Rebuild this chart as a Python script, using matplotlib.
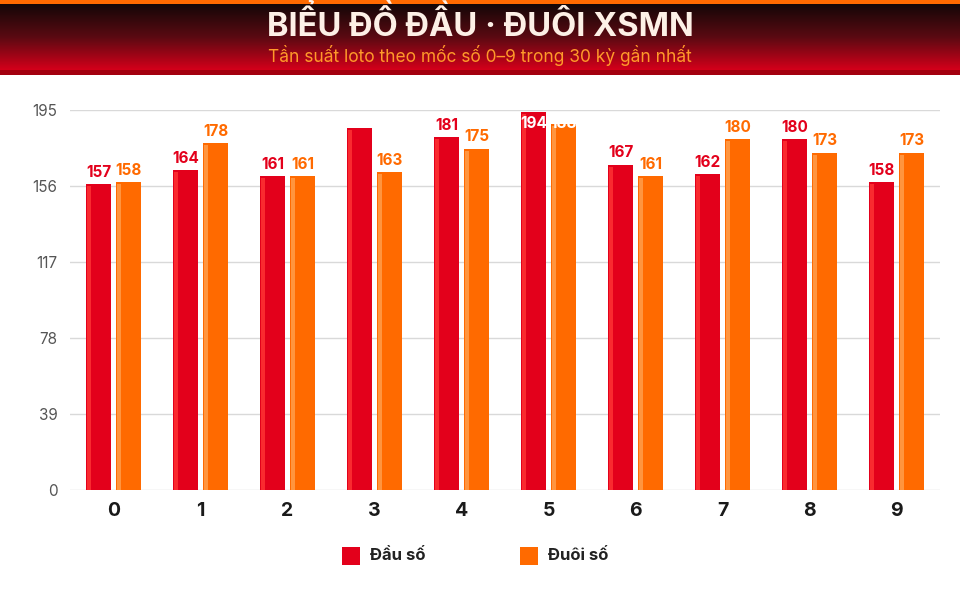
import numpy as np
import matplotlib.pyplot as plt
from matplotlib.colors import LinearSegmentedColormap
from matplotlib.patches import Rectangle

# data
digits = ['0', '1', '2', '3', '4', '5', '6', '7', '8', '9']
dau = [157, 164, 161, 186, 181, 194, 167, 162, 180, 158]
duoi = [158, 178, 161, 163, 175, 188, 161, 180, 173, 173]
y_ticks = [0, 39, 78, 117, 156, 195]

title = 'BIỂU ĐỒ ĐẦU · ĐUÔI XSMN'
subtitle = 'Tần suất loto theo mốc số 0–9 trong 30 kỳ gần nhất'
legend_names = ['Đầu số', 'Đuôi số']

RED = '#e3001b'
RED_HI = '#ff3535'
ORANGE = '#ff6a00'
ORANGE_HI = '#ffa050'

plt.rcParams['font.family'] = ['Inter', 'DejaVu Sans']

W, H = 960, 600
fig = plt.figure(figsize=(9.6, 6), dpi=100)
fig.patch.set_facecolor('white')

# header band
hax = fig.add_axes([0, 1 - 75 / H, 1, 75 / H])
cmap = LinearSegmentedColormap.from_list('hdr', ['#140707', '#5a0a12', '#d4001a'])
grad = np.linspace(0, 1, 200).reshape(-1, 1)
hax.imshow(grad, cmap=cmap, aspect='auto', extent=[0, W, 70, 4])
hax.add_patch(Rectangle((0, 0), W, 4, color='#ff6a00', lw=0))
hax.add_patch(Rectangle((0, 70), W, 5, color='#a3000f', lw=0))
hax.set_xlim(0, W)
hax.set_ylim(75, 0)
hax.axis('off')
hax.text(W / 2, 25, title, ha='center', va='center', fontsize=23.5,
         fontweight='bold', color='#fdf0e6')
hax.text(W / 2, 56, subtitle, ha='center', va='center', fontsize=12.5,
         color='#ff9a2a')

# main chart
ax = fig.add_axes([70 / W, 1 - 490 / H, 870 / W, 380 / H])
x = np.arange(len(digits))
bw = 0.29
off = 0.172
px = 1 / 87.0  # one pixel in x data units
py = 195 / 380.0  # one pixel in y data units

for vals, shift, col, hi in [(dau, -off, RED, RED_HI), (duoi, off, ORANGE, ORANGE_HI)]:
    xs = x + shift
    ax.bar(xs, vals, width=bw, color=col, zorder=3, clip_on=False)
    left = xs - bw / 2
    ax.bar(left + 1.5 * px, np.array(vals) - 2 * py, width=4 * px, align='edge',
           color=hi, alpha=0.8, zorder=4, clip_on=False)
    for xi, v in zip(xs, vals):
        ly = v + 12 * py
        if ly > 190:
            # no room above: label sits inside the bar in white
            ax.text(xi, 188.3, str(v), ha='center', va='center', fontsize=11,
                    fontweight='bold', color='white', zorder=6, clip_on=False)
        else:
            ax.text(xi, ly, str(v), ha='center', va='center', fontsize=11,
                    fontweight='bold', color=col, zorder=6, clip_on=False)

ax.set_xlim(-0.5, 9.5)
ax.set_ylim(0, 195)
ax.set_yticks(y_ticks)
ax.set_yticklabels([str(t) for t in y_ticks], fontsize=11, color='#555555')
ax.set_xticks(x)
ax.set_xticklabels(digits, fontsize=14, fontweight='bold', color='#1a1a1a')
ax.tick_params(axis='y', length=0, pad=9)
ax.tick_params(axis='x', length=0, pad=9)
ax.grid(axis='y', color='#d9d9d9', lw=1, zorder=0)
for s in ax.spines.values():
    s.set_visible(False)

# legend
lax = fig.add_axes([0, 0, 1, 1], zorder=-1)
lax.set_xlim(0, W)
lax.set_ylim(H, 0)
lax.axis('off')
for sx, col, name in [(342, RED, legend_names[0]), (520, ORANGE, legend_names[1])]:
    lax.add_patch(Rectangle((sx, 547), 18, 18, color=col, lw=0))
    lax.text(sx + 28, 556, name, ha='left', va='center', fontsize=12,
             fontweight='bold', color='#222222')

fig.savefig('out.png', dpi=100)
